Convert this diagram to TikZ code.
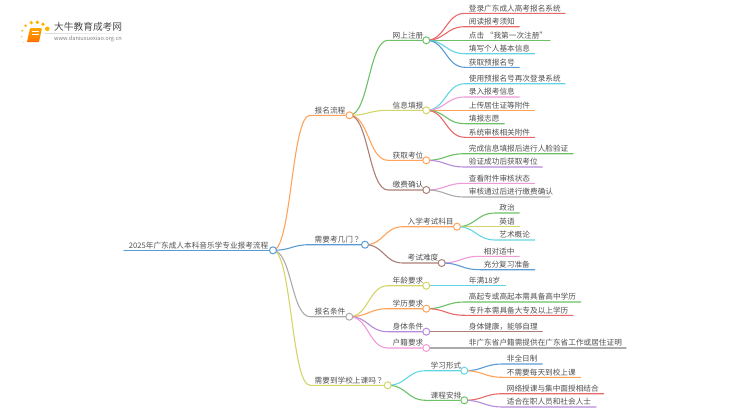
\documentclass[tikz,border=0pt]{standalone}
\usepackage{fontspec}
\setmainfont{Noto Sans CJK SC}
\newfontfamily\tcfont{Noto Sans CJK TC}
\usetikzlibrary{backgrounds,calc}
\definecolor{cgreen}{HTML}{6CC065}
\definecolor{cred}{HTML}{E8696B}
\definecolor{ccyan}{HTML}{62D5E4}
\definecolor{cblue}{HTML}{5B9BD5}
\definecolor{corange}{HTML}{FFA35C}
\definecolor{cyel}{HTML}{D3D469}
\definecolor{cpink}{HTML}{F09AD8}
\definecolor{cpurple}{HTML}{B58BD9}
\definecolor{cbrown}{HTML}{AA7F75}
\definecolor{cgray}{HTML}{ABABAB}
\definecolor{ctext}{HTML}{505050}
\tikzset{
  x=1pt,y=-1pt,
  dotnode/.style={circle,fill=white,line width=1pt,minimum size=7pt,inner sep=0pt},
  lab/.style={anchor=west,inner sep=0pt,text=ctext,font=\fontsize{7.65}{9}\selectfont},
  conn/.style={line width=1.1pt,line cap=round},
}
\newcommand\bcurve[3]{\draw[conn,#3] let \p1=(#1),\p2=(#2) in (\p1) .. controls ({(\x1+\x2)/2},\y1) and ({(\x1+\x2)/2},\y2) .. (\p2)}
% name, parent, startx, circlex, y, colour, text
\newcommand\topicnode[7]{%
  \node[dotnode,draw=#6] (#1) at (#4,#5) {};
  \coordinate (#1-s) at (#3,#5);
  \node[lab] (#1-t) at ({#3+4.5},{#5-5}) {#7};
  \begin{pgfonlayer}{background}
    \bcurve{#2.center}{#1-s}{#6} -- (#1.center);
  \end{pgfonlayer}}
% name, parent, startx, endx, y, colour, text
\newcommand\leafnode[7]{%
  \coordinate (#1-s) at (#3,#5);
  \coordinate (#1-e) at (#4,#5);
  \node[lab] (#1-t) at ({#3+3.7},{#5-5}) {#7};
  \begin{pgfonlayer}{background}
    \bcurve{#2.center}{#1-s}{#6} -- (#1-e);
  \end{pgfonlayer}}
\begin{document}
\begin{tikzpicture}
\useasboundingbox (0,0) rectangle (750,410);
% logo
\foreach \px/\py/\pr/\po in {47.3/28.8/2.3/1,43/24.3/1.9/1,37.3/22.3/1.9/1,31.3/22.7/1.8/1,25.7/25.7/1.5/.9,22.3/30.7/1.2/.8,21.7/36.7/1/.6,23.3/42.3/.8/.4}
  \fill[orange!60!yellow,opacity=\po] (\px,\py) circle (\pr);
\shade[top color=orange!70!yellow,bottom color=orange!90!red,rounded corners=1pt] (30,28) -- (42,28) -- (39,42) -- (27,42) -- cycle;
\draw[white,line width=0.5pt] (32,31) -- (39,31) (31.5,34) -- (38.5,34);
\draw[orange!85!red,line width=0.8pt] (27,41) -- (38.5,41);
\node[inner sep=0pt,anchor=west,text=ctext!90!black,font=\fontsize{9.7}{11}\selectfont] (logoa) at (54,27) {大牛教育成考网};
\node[inner sep=0pt,anchor=west,text=gray,font=\fontsize{5.6}{7}\selectfont] (logob) at (54,38.7) {www.daniuxuexiao.org.cn};
\shade[left color=gray!30,right color=white] (45,33) rectangle (133,33.6);
% root
\node[dotnode,draw=cblue] (root) at (273,250.3) {};
\coordinate (root-s) at (124,250.3);
\node[lab] (root-t) at (128.7,245.2) {2025年广东成人本科音乐学专业报考流程};
\begin{pgfonlayer}{background}
  \draw[conn,cblue,line width=1.4pt] (root-s) -- (root.center);
\end{pgfonlayer}
% level 1
\topicnode{a}{root}{310}{349.5}{115.3}{corange}{报名流程}
\topicnode{b}{root}{310}{365}{244.7}{cblue}{需要考几门{\tcfont ？}}
\topicnode{c}{root}{310}{349.3}{316.7}{cgray}{报名条件}
\topicnode{d}{root}{310}{387.7}{385.3}{cyel}{需要到学校上课吗{\tcfont ？}}
% a
\topicnode{a1}{a}{388}{426.3}{40.3}{cgreen}{网上注册}
\topicnode{a2}{a}{388}{426.3}{110.3}{cyel}{信息填报}
\topicnode{a3}{a}{388}{426.3}{160.3}{corange}{获取考位}
\topicnode{a4}{a}{388}{426.3}{190}{cbrown}{缴费确认}
\leafnode{a11}{a1}{465}{565}{13.3}{cred}{登录广东成人高考报名系统}
\leafnode{a12}{a1}{465}{519.3}{26.7}{cred}{阅读报考须知}
\leafnode{a13}{a1}{465}{550}{40.3}{cgreen}{点击 “我第一次注册”}
\leafnode{a14}{a1}{465}{534.7}{53.7}{ccyan}{填写个人基本信息}
\leafnode{a15}{a1}{465}{519.3}{67.3}{cblue}{获取预报名号}
\leafnode{a21}{a2}{465}{565}{83.7}{ccyan}{使用预报名号再次登录系统}
\leafnode{a22}{a2}{465}{519.3}{97}{cpink}{录入报考信息}
\leafnode{a23}{a2}{465}{534.7}{110.3}{corange}{上传居住证等附件}
\leafnode{a24}{a2}{465}{504.3}{123.7}{cgreen}{填报志愿}
\leafnode{a25}{a2}{465}{534.7}{137.3}{cred}{系统审核相关附件}
\leafnode{a31}{a3}{465}{573}{153.7}{cgreen}{完成信息填报后进行人脸验证}
\leafnode{a32}{a3}{465}{542.3}{167}{cpurple}{验证成功后获取考位}
\leafnode{a41}{a4}{465}{534.7}{183.3}{cpink}{查看附件审核状态}
\leafnode{a42}{a4}{465}{550}{197}{cgray}{审核通过后进行缴费确认}
% b
\topicnode{b1}{b}{403}{457}{226.7}{corange}{入学考试科目}
\topicnode{b2}{b}{403}{441.7}{263}{cbrown}{考试难度}
\leafnode{b11}{b1}{495.5}{519.3}{213}{cgreen}{政治}
\leafnode{b12}{b1}{495.5}{519.3}{226.7}{cyel}{英语}
\leafnode{b13}{b1}{495.5}{534.7}{240}{ccyan}{艺术概论}
\leafnode{b21}{b2}{480}{519.3}{256.3}{cpink}{相对适中}
\leafnode{b22}{b2}{480}{534.7}{269.7}{cblue}{充分复习准备}
% c
\topicnode{c1}{c}{388}{426.3}{285.7}{cyel}{年龄要求}
\topicnode{c2}{c}{388}{426.3}{308.7}{corange}{学历要求}
\topicnode{c3}{c}{388}{426.3}{331.7}{cpurple}{身体条件}
\topicnode{c4}{c}{388}{426.3}{348}{cpink}{户籍要求}
\leafnode{c11}{c1}{465}{505.7}{285.7}{ccyan}{年满18岁}
\leafnode{c21}{c2}{465}{580.7}{302}{cgreen}{高起专或高起本需具备高中学历}
\leafnode{c22}{c2}{465}{573}{315.3}{cred}{专升本需具备大专及以上学历}
\leafnode{c31}{c3}{465}{542.3}{331.7}{cbrown}{身体健康，能够自理}
\leafnode{c41}{c4}{465}{626}{348}{cgray}{非广东省户籍需提供在广东省工作或居住证明}
% d
\topicnode{d1}{d}{426}{464.3}{370.7}{ccyan}{学习形式}
\topicnode{d2}{d}{426}{464.3}{400.3}{cgreen}{课程安排}
\leafnode{d11}{d1}{503}{542.3}{364}{cblue}{非全日制}
\leafnode{d12}{d1}{503}{580.7}{377.3}{corange}{不需要每天到校上课}
\leafnode{d21}{d2}{503}{603.7}{393.7}{cred}{网络授课与集中面授相结合}
\leafnode{d22}{d2}{503}{596}{407}{cpurple}{适合在职人员和社会人士}
\end{tikzpicture}
\end{document}
